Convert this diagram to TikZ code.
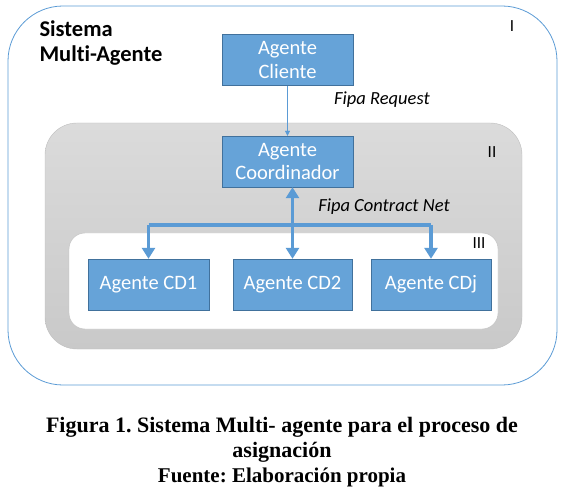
\documentclass[tikz,border=0pt]{standalone}
\usepackage{fontspec}
\setmainfont{Carlito}[Ligatures=NoCommon]
\newfontfamily\capfont{Liberation Serif}
\usetikzlibrary{arrows.meta}
\frenchspacing
\definecolor{agentblue}{RGB}{102, 163, 216}
\definecolor{agentedge}{RGB}{65, 113, 156}
\definecolor{outerblue}{RGB}{91, 155, 213}
\definecolor{layergray}{RGB}{210, 210, 210}
\definecolor{layeredge}{RGB}{190, 190, 190}

\tikzset{
  agent/.style={draw=agentedge, fill=agentblue, text=white, font=\fontsize{20.5}{23.5}\selectfont,
                minimum height=51pt, inner sep=0pt, align=center},
  layerlabel/.style={font=\fontsize{17}{18}\selectfont},
  protocol/.style={font=\fontsize{18.5}{20}\selectfont\itshape},
  bus/.style={draw=outerblue, line width=3.6pt},
  tip/.style={-{Triangle[width=13pt,length=11pt]}}
}

\begin{document}
\begin{tikzpicture}[x=1pt, y=-1pt]
            \useasboundingbox (0,0) rectangle (564,502);
            % capas del sistema
            \draw[outerblue, thick, rounded corners=55pt]           (  8,  6) rectangle (557,385);
            \shade[top color=layergray!80, bottom color=layergray!120,
                   draw=layeredge, rounded corners=32pt]            ( 45,123) rectangle (522,349);
            \draw[layeredge, fill=white, rounded corners=16pt]      ( 69,233) rectangle (498,329);
            \node[font=\fontsize{22.5}{25}\selectfont\bfseries, align=left, anchor=base west] (sma) at (36,61.7) {Sistema\\Multi-Agente};
            \node[layerlabel] (capaI)   at (512, 26) {I};
            \node[layerlabel] (capaII)  at (492,152) {II};
            \node[layerlabel] (capaIII) at (479,243) {III};
            % agentes
            \node[agent, minimum width=131pt] (cliente) at (287.5, 60) {Agente\\Cliente};
            \node[agent, minimum width=131pt] (coord)   at (287.5,161.5) {Agente\\Coordinador};
            \node[agent, minimum width=121pt] (cd1)     at (148.5,284.5) {Agente CD1};
            \node[agent, minimum width=119pt] (cd2)     at (292.5,284.5) {Agente CD2};
            \node[agent, minimum width=120pt] (cdj)     at (431.0,284.5) {Agente CDj};
            % protocolos
            \draw[outerblue, -{Triangle[width=5pt,length=5pt]}] (cliente) -- (coord);
            \node[protocol] (request)  at (382,100) {Fipa Request};
            \node[protocol] (contract) at (384,207) {Fipa Contract Net};
            \coordinate (busL) at (cd1.north |- 0,225);
            \coordinate (busM) at (cd2.north |- 0,225);
            \coordinate (busR) at (cdj.north |- 0,225);
            \draw[bus] (busL) -- (busR);
            \draw[bus, tip] (busL) -- (cd1);
            \draw[bus, tip] (busM) -- (cd2);
            \draw[bus, tip] (busR) -- (cdj);
            \draw[bus, tip] (busM) -- (coord.south -| busM);
            % leyenda
            \node[font=\capfont\bfseries\fontsize{22}{25}\selectfont, align=center] (caption) at (282,439.5)
                 {Figura 1. Sistema Multi- agente para el proceso de\\asignación};
            \node[font=\capfont\bfseries\fontsize{21}{22}\selectfont] (fuente) at (282,477) {Fuente: Elaboración propia};
        \end{tikzpicture}
\end{document}
